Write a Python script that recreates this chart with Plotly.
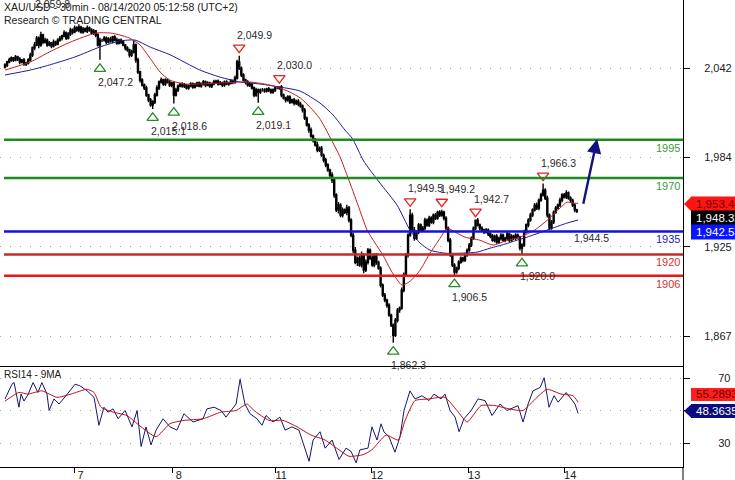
import plotly.graph_objects as go

# ---------------- data ----------------
first_open = 2042.5
closes = [
    2043.8, 2045.8, 2047.1, 2048.4, 2047.1, 2049.0, 2047.7, 2045.8, 2047.1, 2044.4,
    2045.1, 2047.1, 2050.3, 2054.9, 2056.9, 2061.4, 2056.9, 2063.4, 2058.8, 2060.1,
    2056.9, 2058.2, 2056.2, 2058.8, 2057.5, 2060.1, 2061.4, 2062.8, 2064.7, 2061.4,
    2064.1, 2066.7, 2065.4, 2068.0, 2066.7, 2068.6, 2065.4, 2067.3, 2066.0, 2068.0,
    2066.7, 2064.7, 2066.0, 2063.4, 2056.9, 2060.1, 2060.1, 2061.4, 2058.8, 2060.8,
    2059.5, 2062.1, 2060.1, 2058.2, 2060.1, 2058.8, 2056.9, 2054.9, 2053.6, 2050.3,
    2052.3, 2056.9, 2047.1, 2039.2, 2034.0, 2030.7, 2028.8, 2024.2, 2020.9, 2017.6,
    2019.6, 2024.2, 2028.8, 2032.7, 2034.0, 2031.4, 2034.0, 2032.7, 2030.7, 2032.0,
    2024.2, 2027.5, 2030.1, 2031.4, 2030.1, 2030.7, 2028.8, 2030.1, 2031.4, 2029.4,
    2030.7, 2032.0, 2030.1, 2031.4, 2032.7, 2030.7, 2032.0, 2030.1, 2031.4, 2032.7,
    2033.3, 2031.4, 2032.0, 2030.7, 2032.7, 2031.4, 2032.0, 2033.3, 2032.7, 2035.3,
    2045.8, 2041.8, 2037.3, 2034.0, 2032.7, 2030.7, 2031.4, 2028.8, 2024.2, 2027.5,
    2026.1, 2027.5, 2027.5, 2026.8, 2028.1, 2027.5, 2026.1, 2027.5, 2028.8, 2028.8,
    2029.4, 2024.2, 2022.2, 2020.9, 2022.9, 2019.6, 2020.9, 2018.9, 2020.2, 2018.3,
    2017.0, 2014.4, 2009.1, 2004.6, 2001.3, 1997.4, 1994.7, 1991.5, 1988.2, 1989.5,
    1984.9, 1981.7, 1978.4, 1975.1, 1971.9, 1968.6, 1958.8, 1949.0, 1952.2, 1945.7,
    1949.0, 1947.6, 1950.3, 1942.4, 1932.6, 1922.8, 1914.9, 1917.6, 1913.0, 1919.5,
    1909.7, 1914.9, 1922.8, 1917.6, 1913.0, 1919.5, 1914.9, 1911.0, 1899.9, 1893.4,
    1890.1, 1886.8, 1880.3, 1873.8, 1867.2, 1877.0, 1883.6, 1884.9, 1896.6, 1906.5,
    1919.5, 1932.6, 1945.7, 1935.9, 1930.6, 1934.6, 1939.2, 1935.9, 1937.2, 1942.4,
    1939.2, 1943.7, 1941.1, 1945.7, 1943.7, 1947.6, 1945.7, 1947.6, 1943.7, 1937.2,
    1929.3, 1919.5, 1913.0, 1908.4, 1911.0, 1914.9, 1917.6, 1916.3, 1919.5, 1922.8,
    1926.1, 1930.6, 1937.2, 1942.4, 1939.2, 1937.2, 1935.9, 1934.6, 1935.9, 1933.3,
    1931.9, 1929.3, 1931.9, 1928.0, 1930.6, 1932.6, 1929.3, 1930.6, 1933.3, 1929.3,
    1931.9, 1930.6, 1932.6, 1931.3, 1924.1, 1926.1, 1934.6, 1939.2, 1942.4, 1945.7,
    1949.0, 1952.2, 1950.3, 1955.5, 1958.8, 1962.0, 1956.8, 1945.7, 1937.2, 1941.1,
    1947.6, 1950.3, 1952.2, 1955.5, 1958.8, 1957.5, 1960.1, 1956.8, 1955.5, 1952.2,
    1949.0, 1948.3,
]
# wick length above / below the candle body
wick_up = [
    1.2, 0.8, 1.5, 1.0, 0.6, 1.4, 0.9, 1.1, 0.7, 1.3,
    0.9, 1.2, 1.6, 1.0, 2.0, 1.4, 1.1, 2.2, 0.8, 1.5,
    1.0, 1.3, 0.7, 1.6, 0.9, 1.2, 1.4, 0.8, 1.8, 1.0,
    1.1, 1.5, 0.9, 1.7, 1.2, 1.9, 0.8, 1.3, 1.0, 1.6,
    0.9, 1.2, 1.4, 0.7, 1.1, 1.5, 0.8, 1.3, 1.0, 1.2,
    1.4, 0.9, 1.1, 1.6, 0.8, 1.0, 1.3, 0.7, 1.2, 0.9,
    1.5, 3.2, 1.0, 1.4, 0.8, 1.2, 1.0, 1.5, 0.9, 1.3,
    1.1, 1.4, 1.8, 1.0, 1.6, 0.8, 1.2, 1.0, 1.4, 0.9,
    1.2, 1.5, 1.0, 0.8, 1.1, 1.3, 0.7, 1.0, 1.2, 0.9,
    1.4, 0.8, 1.1, 1.0, 1.3, 0.9, 1.2, 0.8, 1.0, 1.5,
    0.9, 1.1, 1.3, 0.8, 1.0, 1.2, 0.9, 1.4, 1.0, 1.6,
    1.5, 4.1, 1.0, 1.2, 0.9, 1.1, 1.3, 0.8, 1.0, 1.4,
    1.0, 0.9, 1.2, 1.1, 0.8, 1.3, 1.0, 0.9, 1.2, 1.1,
    0.6, 1.4, 1.0, 0.8, 1.2, 1.1, 0.9, 1.3, 1.0, 1.2,
    1.5, 1.0, 1.3, 0.9, 1.2, 1.6, 1.0, 1.4, 2.2, 1.1,
    1.3, 1.0, 1.5, 1.2, 0.9, 1.8, 1.4, 1.1, 2.0, 1.3,
    1.6, 1.0, 2.1, 1.3, 1.2, 1.5, 2.0, 1.0, 1.6, 2.4,
    1.1, 1.8, 1.4, 1.0, 1.7, 1.2, 1.5, 1.0, 1.3, 1.1,
    1.4, 1.0, 1.2, 0.9, 1.1, 1.5, 1.3, 1.0, 1.8, 1.6,
    1.4, 1.2, 3.8, 1.5, 2.0, 1.1, 1.4, 1.0, 1.3, 1.6,
    1.0, 1.5, 1.2, 1.1, 1.4, 1.0, 1.2, 1.6, 1.0, 1.3,
    1.1, 1.4, 0.9, 1.2, 1.0, 1.3, 1.1, 0.9, 1.2, 1.0,
    1.3, 1.1, 1.0, 0.3, 1.4, 1.0, 1.2, 0.9, 1.3, 1.0,
    1.1, 1.4, 0.9, 1.2, 1.0, 1.3, 1.1, 1.0, 1.4, 0.9,
    1.2, 1.0, 1.3, 1.1, 0.9, 1.2, 1.5, 1.0, 1.3, 1.6,
    1.2, 1.4, 1.8, 1.0, 1.5, 4.3, 1.2, 1.6, 1.0, 1.4,
    1.1, 1.3, 1.0, 1.6, 1.2, 1.4, 1.8, 1.0, 1.2, 0.9,
    1.1, 0.8,
]
wick_dn = [
    1.0, 1.3, 0.8, 1.1, 1.4, 0.9, 1.2, 1.5, 0.8, 1.1,
    1.3, 0.9, 1.0, 1.2, 1.5, 0.8, 2.1, 1.1, 1.4, 1.0,
    1.2, 0.9, 1.4, 1.0, 1.3, 0.8, 1.1, 1.5, 0.9, 1.2,
    1.0, 1.3, 1.6, 0.9, 1.1, 1.4, 1.0, 1.2, 0.8, 1.3,
    1.1, 0.9, 1.2, 1.4, 1.0, 9.7, 1.3, 1.0, 1.5, 0.9,
    1.1, 1.4, 0.8, 1.2, 1.0, 1.3, 0.9, 1.5, 1.1, 1.6,
    1.2, 1.0, 1.8, 1.3, 1.6, 1.0, 1.4, 1.2, 1.5, 1.1,
    2.5, 1.2, 1.0, 1.4, 0.9, 1.1, 1.3, 1.0, 1.2, 1.5,
    5.6, 1.0, 1.3, 0.9, 1.1, 1.4, 1.0, 1.2, 0.8, 1.1,
    1.0, 1.3, 0.9, 1.2, 1.0, 1.4, 0.8, 1.1, 1.3, 0.9,
    1.2, 1.0, 0.8, 1.3, 1.1, 0.9, 1.2, 1.0, 1.4, 1.1,
    1.0, 1.2, 1.4, 0.9, 1.6, 1.1, 1.3, 1.0, 1.5, 1.2,
    7.0, 1.3, 1.0, 1.2, 0.9, 1.4, 1.1, 1.0, 1.3, 0.8,
    1.2, 1.4, 1.0, 1.6, 1.1, 1.3, 1.0, 1.5, 1.2, 1.4,
    1.1, 1.6, 1.3, 1.0, 1.8, 1.2, 1.5, 1.0, 1.4, 1.3,
    1.1, 1.6, 1.4, 1.0, 1.5, 2.0, 1.8, 1.3, 2.2, 1.4,
    1.5, 1.2, 2.0, 1.6, 1.4, 1.8, 1.3, 2.4, 1.0, 1.6,
    2.0, 1.2, 1.5, 1.3, 1.0, 1.4, 1.6, 1.1, 1.5, 1.2,
    1.4, 1.6, 1.0, 1.3, 4.9, 1.2, 1.5, 1.8, 1.1, 1.4,
    1.2, 1.5, 1.0, 1.3, 1.6, 1.1, 1.4, 1.0, 1.2, 1.5,
    1.1, 1.3, 1.0, 1.4, 1.2, 1.0, 1.3, 1.1, 1.5, 1.2,
    1.4, 1.0, 1.2, 1.9, 1.1, 1.3, 1.0, 1.4, 1.2, 1.1,
    1.0, 1.3, 1.1, 1.2, 1.0, 1.4, 1.1, 1.3, 1.0, 1.2,
    1.4, 1.0, 1.3, 1.1, 1.2, 1.5, 1.0, 1.3, 1.1, 1.4,
    1.0, 1.2, 1.3, 1.1, 1.5, 4.1, 1.2, 1.0, 1.4, 1.1,
    1.3, 1.0, 1.2, 1.4, 1.1, 1.0, 1.3, 1.5, 1.2, 1.0,
    1.3, 1.1, 1.0, 1.2, 1.4, 1.0, 1.3, 1.1, 1.5, 1.2,
    1.4, 1.3,
]

red_ma_x = [0, 12, 21, 31, 43, 50, 54.5, 59, 64, 70, 73.5, 78, 85, 92, 102, 111, 116, 123, 129,
            135, 140, 144.5, 149, 154, 158.8, 162.6, 167.3, 171.6, 175.4, 179.1, 183.4, 188.2,
            192, 196.7, 201.4, 206.2, 209.5, 213.3, 218, 225, 231.3, 237, 244, 251, 257, 263,
            266.4, 269.2, 271.6]
red_ma_y = [2040.5, 2045.8, 2052.3, 2058.8, 2064.7, 2064.7, 2063.4, 2061.4, 2056.9, 2045.8, 2039.2,
            2034.0, 2031.4, 2031.4, 2032.0, 2032.7, 2032.7, 2031.4, 2029.4, 2026.1, 2022.2, 2016.3,
            2009.1, 1996.7, 1983.6, 1969.9, 1952.2, 1935.9, 1927.4, 1919.5, 1908.4, 1899.9, 1902.5,
            1909.7, 1920.8, 1930.6, 1937.2, 1934.6, 1931.3, 1929.3, 1926.1, 1928.7, 1931.3, 1935.9,
            1942.4, 1950.3, 1954.2, 1953.5, 1953.4]
blue_ma_x = [0, 12, 21, 33, 45, 54.5, 61.6, 68.7, 78.2, 92.4, 101.9, 111.4, 120.9, 130.3, 139.8,
             149.3, 155.5, 161.1, 164.5, 169.7, 173, 177.7, 185.8, 191.9, 196.7, 201.4, 208.5,
             215.6, 223.7, 229.9, 236.9, 242.6, 247.4, 256.9, 266.4, 271.6]
blue_ma_y = [2037.3, 2040.5, 2043.8, 2049.0, 2055.6, 2059.5, 2060.1, 2055.6, 2050.5, 2040.5, 2035.9,
             2032.7, 2031.4, 2029.4, 2026.8, 2018.9, 2011.1, 2001.3, 1996.0, 1981.7, 1975.1, 1966.6,
             1952.2, 1935.9, 1927.4, 1922.8, 1920.8, 1920.8, 1921.5, 1924.1, 1926.7, 1929.3, 1931.3,
             1935.9, 1940.5, 1942.5]

rsi_x = [0, 3.3, 4.3, 6.6, 7.6, 9, 10.9, 13.3, 15.6, 17.5, 19.9, 20.9, 23.2, 25.6, 28.9, 33.2, 35.5,
         38.9, 42.2, 44.5, 46.9, 48.8, 51.2, 53.6, 56.9, 60.2, 62.6, 64.5, 66.8, 69.2, 71.6, 74.9,
         78.2, 81.5, 84.8, 89.1, 93.8, 95.7, 99.1, 102.4, 104.7, 109.5, 111.4, 113.7, 116.1, 119.4,
         121.8, 123.7, 127, 130.3, 132.7, 136, 139.3, 141.7, 144.1, 146, 149.3, 151.7, 155, 158.3,
         161.6, 164, 166.4, 168.2, 172, 173.9, 176.3, 178.2, 179.6, 182, 184.8, 187.2, 189.1, 191.9,
         194.3, 197.6, 200.9, 203.3, 206.6, 208.5, 210.9, 213.3, 215.2, 217.5, 220.9, 224.2, 227.5,
         230.8, 234.6, 237.9, 241.2, 243.1, 245.5, 247.9, 250.2, 253.6, 255.5, 257.8, 260.2, 262.1,
         265.9, 267.8, 270.1, 271.6]
rsi_y = [57.3, 66.4, 67.4, 52.2, 60.3, 56, 60, 67.4, 61.3, 67.4, 60.3, 50.2, 57.3, 54.2, 59.3, 66.4,
         65.4, 62.3, 58.3, 41.1, 52.2, 49.2, 51.2, 45.1, 50.2, 40.1, 50.2, 28, 40.1, 29, 38.1, 45.1,
         40.1, 38.1, 48.2, 43.1, 45.1, 51.2, 52.2, 50.2, 46.1, 54.2, 69.4, 54.2, 48.2, 45.1, 41.1,
         47.1, 43.1, 46.1, 38.1, 40.1, 38.1, 28, 18.9, 32, 37.1, 27, 32, 20, 27, 25, 18, 26, 27,
         40.1, 32, 42, 37, 34, 24.5, 34, 50.2, 62.3, 57.3, 59.3, 56.3, 60.3, 57.3, 60.3, 50.2, 46.1,
         37.1, 45.1, 50.2, 57.3, 56.3, 47.1, 54.2, 50.2, 52.2, 53.2, 43.1, 54.2, 62.3, 64.4, 70.4,
         52.2, 59.3, 55.3, 61.3, 58.3, 54.2, 48.4]
rsi_ma_x = [0, 6.6, 10.9, 17.5, 24.6, 31.3, 38.9, 42.2, 45.5, 51.2, 57.8, 64.5, 71.6, 78.2, 84.8,
            93.8, 102.4, 109.5, 114.7, 118, 125.1, 131.8, 138.4, 145, 151.7, 158.3, 163, 169.7,
            173.9, 180.6, 186.3, 189.6, 194.3, 200.9, 208.5, 214.2, 219, 225.6, 232.2, 238.9,
            245.5, 252.1, 256.9, 263.5, 269.2, 271.6]
rsi_ma_y = [56, 61.3, 60.3, 62.3, 58.3, 60.3, 63.3, 61.3, 52.2, 49.2, 47.1, 40.1, 34, 42.1, 44.1,
            45.1, 49.2, 50.2, 54.2, 50.2, 44.1, 44.1, 40.1, 35.1, 32, 26, 22, 23, 26, 35.1, 32, 44.1,
            56.3, 57.3, 58.3, 50.2, 43.1, 53.2, 53.2, 51.2, 50.2, 58.3, 63.3, 60.3, 59.3, 55.3]

levels = [1995, 1970, 1935, 1920, 1906]
level_labels = ["1995", "1970", "1935", "1920", "1906"]

pivot_x = [45, 70, 80, 111, 120, 130, 184, 192, 207, 213, 223, 245, 255]
pivot_price = [2047.2, 2015.1, 2018.6, 2049.9, 2019.1, 2030.0, 1862.3, 1949.5, 1949.2,
               1906.5, 1942.7, 1920.0, 1966.3]
pivot_kind = ["L", "L", "L", "H", "L", "H", "L", "H", "H", "L", "H", "L", "H"]

target_x = [273.9, 280.6]          # projected path (start, end)
target_price = [1952.2, 1995.5]

day_ticks = [33, 79.5, 128, 173.5, 219.5, 265]
day_labels = ["7", "8", "11", "12", "13", "14"]
price_ticks = [1866.67, 1925.0, 1983.33, 2041.67]
price_tick_labels = ["1,867", "1,925", "1,984", "2,042"]
rsi_ticks = [30, 50, 70]
rsi_tick_labels = ["30", "", "70"]

last_close_text = "1,948.32"
red_ma_text = "1,953.4"
blue_ma_text = "1,942.53"
rsi_text = "48.3635"
rsi_ma_text = "55.2893"

# ---------------- derived ----------------
bars = list(range(len(closes)))
opens = [first_open] + closes[:-1]
highs = [max(o, c) + u for o, c, u in zip(opens, closes, wick_up)]
lows = [min(o, c) - d for o, c, d in zip(opens, closes, wick_dn)]

# ---------------- layout geometry ----------------
W, H = 683, 467           # plot area in px
MAIN_BOT = 366            # px from top where price panel ends
Y_RANGE = [1847.06, 2086.3]
RSI_RANGE = [15.4, 77.6]
X_RANGE = [-2.37, 321.3]
PPU = MAIN_BOT / (Y_RANGE[1] - Y_RANGE[0])  # px per price unit


def PX(x):
    return x / W


def PY(y):
    return (H - y) / H


FONT = "Arial, Liberation Sans, sans-serif"
GREEN = "#1f8a1f"
fig = go.Figure()

fig.add_trace(go.Candlestick(
    x=bars, open=opens, high=highs, low=lows, close=closes,
    increasing=dict(line=dict(color="black", width=1.4), fillcolor="white"),
    decreasing=dict(line=dict(color="black", width=1.4), fillcolor="black"),
    whiskerwidth=0, xaxis="x", yaxis="y", showlegend=False, hoverinfo="skip"))

fig.add_trace(go.Scatter(x=blue_ma_x, y=blue_ma_y, mode="lines",
                         line=dict(color="#1c1c9a", width=1, shape="spline", smoothing=0.6),
                         xaxis="x", yaxis="y", hoverinfo="skip"))
fig.add_trace(go.Scatter(x=red_ma_x, y=red_ma_y, mode="lines",
                         line=dict(color="#c41e1e", width=1, shape="spline", smoothing=0.6),
                         xaxis="x", yaxis="y", hoverinfo="skip"))

# pivot triangles
lx = [x for x, k in zip(pivot_x, pivot_kind) if k == "L"]
ly = [p - 9 / PPU for p, k in zip(pivot_price, pivot_kind) if k == "L"]
hx = [x for x, k in zip(pivot_x, pivot_kind) if k == "H"]
hy = [p + 8 / PPU for p, k in zip(pivot_price, pivot_kind) if k == "H"]
fig.add_trace(go.Scatter(x=lx, y=ly, mode="markers", xaxis="x", yaxis="y",
                         marker=dict(symbol="triangle-up", size=10, color="white",
                                     line=dict(color="#2a8a2a", width=1.3)), hoverinfo="skip"))
fig.add_trace(go.Scatter(x=hx, y=hy, mode="markers", xaxis="x", yaxis="y",
                         marker=dict(symbol="triangle-down", size=10, color="white",
                                     line=dict(color="#e02424", width=1.3)), hoverinfo="skip"))

# RSI
fig.add_trace(go.Scatter(x=rsi_x, y=rsi_y, mode="lines", line=dict(color="#16166e", width=1),
                         xaxis="x2", yaxis="y2", hoverinfo="skip"))
fig.add_trace(go.Scatter(x=rsi_ma_x, y=rsi_ma_y, mode="lines",
                         line=dict(color="#c01010", width=1, shape="spline", smoothing=0.5),
                         xaxis="x2", yaxis="y2", hoverinfo="skip"))

shapes = []
annotations = []
level_colors = [GREEN, GREEN, "#1212dc", "#c42a2a", "#e21a1a"]
level_text_colors = ["#3c9a3c", "#3c9a3c", "#2222c0", "#d03434", "#d83030"]
for lv, lc, tc, lt in zip(levels, level_colors, level_text_colors, level_labels):
    shapes.append(dict(type="line", xref="paper", yref="y", x0=PX(4), x1=1, y0=lv, y1=lv,
                       line=dict(color=lc, width=2.5)))
    annotations.append(dict(xref="paper", yref="y", x=PX(682), y=lv, text=lt, showarrow=False,
                            xanchor="right", yanchor="middle", yshift=-8,
                            font=dict(family=FONT, size=11, color=tc)))

# pivot labels
for x, p, k in zip(pivot_x, pivot_price, pivot_kind):
    annotations.append(dict(xref="x", yref="y", x=x, y=p, text=f"{p:,.1f}", showarrow=False,
                            xanchor="left", yanchor="middle", xshift=-4,
                            yshift=(-22 if k == "L" else 21),
                            font=dict(family=FONT, size=10.5, color="#2a2a2a")))
annotations.append(dict(xref="x", yref="y", x=278, y=1930.6, text="1,944.5", showarrow=False,
                        xanchor="center", yanchor="middle",
                        font=dict(family=FONT, size=10.5, color="#2a2a2a")))
annotations.append(dict(xref="paper", yref="paper", x=PX(52), y=PY(4), text="2,059.8",
                        showarrow=False, xanchor="center", yanchor="middle",
                        font=dict(family=FONT, size=10.5, color="#2a2a2a")))

# projection arrow
annotations.append(dict(xref="x", yref="y", axref="x", ayref="y",
                        x=target_x[1], y=target_price[1], ax=target_x[0], ay=target_price[0],
                        text="", showarrow=True, arrowhead=2, arrowsize=1.2, arrowwidth=2.4,
                        arrowcolor="#12127e"))

# titles
annotations.append(dict(xref="paper", yref="paper", x=PX(2), y=PY(7),
                        text="XAU/USD - 30min - 08/14/2020 05:12:58 (UTC+2)", showarrow=False,
                        xanchor="left", yanchor="middle",
                        font=dict(family=FONT, size=10.5, color="#202020")))
annotations.append(dict(xref="paper", yref="paper", x=PX(2), y=PY(20),
                        text="Research © TRADING CENTRAL", showarrow=False,
                        xanchor="left", yanchor="middle",
                        font=dict(family=FONT, size=10.5, color="#202020")))
annotations.append(dict(xref="paper", yref="paper", x=PX(2), y=PY(374),
                        text="RSI14 - 9MA", showarrow=False, xanchor="left", yanchor="middle",
                        font=dict(family=FONT, size=10, color="#202020")))


def tag(yc, text, bg, fg, arrow=False, half=7.5):
    x0 = 691
    shapes.append(dict(type="rect", xref="paper", yref="paper", x0=PX(x0), x1=PX(745),
                       y0=PY(yc + half), y1=PY(yc - half), fillcolor=bg, line=dict(width=0),
                       layer="above"))
    if arrow:
        shapes.append(dict(type="path", xref="paper", yref="paper",
                           path=f"M {PX(684)},{PY(yc)} L {PX(x0 + 0.5)},{PY(yc - half)} "
                                f"L {PX(x0 + 0.5)},{PY(yc + half)} Z",
                           fillcolor=bg, line=dict(width=0), layer="above"))
    annotations.append(dict(xref="paper", yref="paper", x=PX(694), y=PY(yc), text=text,
                            showarrow=False, xanchor="left", yanchor="middle",
                            font=dict(family=FONT, size=11.5, color=fg)))


tag(204, red_ma_text, "#ff1414", "#6a0000", arrow=True)
tag(218, last_close_text, "#000000", "#ffffff")
tag(232, blue_ma_text, "#0a14ff", "#ffffff")
tag(394.5, rsi_ma_text, "#ff1e1e", "#6a0000", half=6.5)
tag(411, rsi_text, "#0c0c80", "#ffffff", arrow=True, half=7)

# right axis line continuing into the bottom margin
shapes.append(dict(type="line", xref="paper", yref="paper", x0=1, x1=1, y0=-13 / H, y1=0,
                   line=dict(color="black", width=1)))

GRID = dict(showgrid=True, gridcolor="#a8a8a8", griddash="1px,9px", gridwidth=1)

fig.update_layout(
    width=735, height=480,
    margin=dict(l=0, r=52, t=0, b=13),
    paper_bgcolor="white", plot_bgcolor="white",
    showlegend=False,
    font=dict(family=FONT, size=11, color="#202020"),
    shapes=shapes, annotations=annotations,
    xaxis=dict(domain=[0, 1], anchor="y", range=X_RANGE, showline=True, linecolor="black",
               linewidth=1, showgrid=False, zeroline=False, showticklabels=False, ticks="",
               rangeslider=dict(visible=False), fixedrange=True),
    yaxis=dict(domain=[(H - MAIN_BOT) / H, 1], anchor="x", side="right", range=Y_RANGE,
               tickvals=price_ticks, ticktext=price_tick_labels, ticks="outside", ticklen=6,
               tickcolor="black", showline=True, linecolor="black", linewidth=1, zeroline=False,
               automargin=False,
               tickfont=dict(family=FONT, size=11, color="#202020"), ticklabelstandoff=12, **GRID),
    xaxis2=dict(domain=[0, 1], anchor="y2", range=X_RANGE, showline=True, linecolor="black",
                linewidth=1, showgrid=False, zeroline=False, ticks="outside", ticklen=5,
                tickcolor="black", tickvals=day_ticks, ticktext=day_labels, automargin=False,
                tickfont=dict(family=FONT, size=11, color="#202020"),
                ticklabelshift=6, ticklabelstandoff=-7),
    yaxis2=dict(domain=[0, (H - MAIN_BOT) / H], anchor="x2", side="right", range=RSI_RANGE,
                tickvals=rsi_ticks, ticktext=rsi_tick_labels, ticks="outside", ticklen=6,
                tickcolor="black", showline=True, linecolor="black", linewidth=1, zeroline=False,
                automargin=False,
                tickfont=dict(family=FONT, size=11, color="#202020"), ticklabelstandoff=26,
                **GRID),
)

fig.write_html("out.html", config={"displayModeBar": False},
               post_script="document.body.style.margin='0';document.body.style.overflow='hidden';")
